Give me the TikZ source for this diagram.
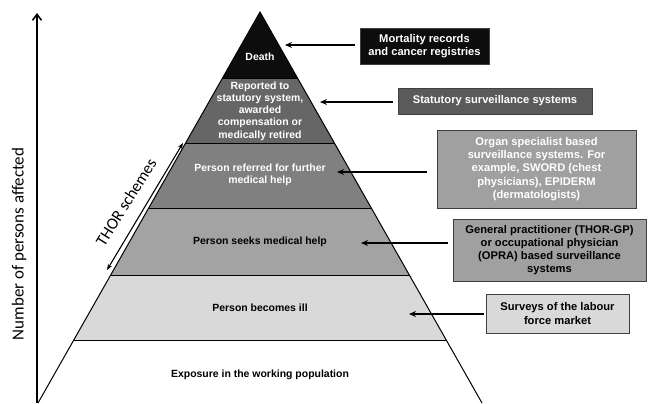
\documentclass[tikz,border=0pt]{standalone}
\usepackage{fontspec}
\setmainfont{Liberation Sans}
\newfontfamily\calfont{Carlito}
\usetikzlibrary{calc,arrows.meta}
\definecolor{cDeath}{HTML}{0D0D0D}
\definecolor{cRep}{HTML}{666666}
\definecolor{cRef}{HTML}{808080}
\definecolor{cSeek}{HTML}{A3A3A3}
\definecolor{cIll}{HTML}{D9D9D9}
\definecolor{cStat}{HTML}{5A5A5A}
\definecolor{cOrg}{HTML}{A0A0A0}
\definecolor{cGP}{HTML}{A0A0A0}
\tikzset{
  lvltext/.style={font=\bfseries\fontsize{10.5}{12.2}\selectfont, align=center, inner sep=0pt},
  srcbox/.style={draw=black!75, line width=0.8pt, inner sep=0pt, align=center,
    font=\bfseries\fontsize{11.2}{13.3}\selectfont},
  feed/.style={line width=1.6pt, -{Stealth[length=7pt,width=6pt]}},
  edge/.style={line width=1pt},
  sep/.style={line width=1pt},
}
\begin{document}
\begin{tikzpicture}[x=1bp,y=-1bp]
\useasboundingbox (0,0) rectangle (650,403);
% pyramid corners
\coordinate (A) at (260,12);
\coordinate (BL) at (38,403);
\coordinate (BR) at (482,403);
% level boundaries
\foreach \n/\yy in {1/78,2/143,3/208,4/275,5/340}{
  \coordinate (L\n) at ($(A)!{(\yy-12)/391}!(BL)$);
  \coordinate (R\n) at ($(A)!{(\yy-12)/391}!(BR)$);
}
% fills
\fill[cDeath] (A) -- (L1) -- (R1) -- cycle;
\fill[cRep] (L1) -- (L2) -- (R2) -- (R1) -- cycle;
\fill[cRef] (L2) -- (L3) -- (R3) -- (R2) -- cycle;
\fill[cSeek] (L3) -- (L4) -- (R4) -- (R3) -- cycle;
\fill[cIll] (L4) -- (L5) -- (R5) -- (R4) -- cycle;
% separators
\foreach \n in {1,...,5}{ \draw[sep] (L\n) -- (R\n); }
% edges
\draw[edge] (BL) -- (A) -- (BR);
% level texts
\node[lvltext, text=white] (tDeath) at (260,57) {Death};
\node[lvltext, text=white] (tRep) at (260,111) {Reported to\\statutory system,\\awarded\\compensation or\\medically retired};
\node[lvltext, text=white] (tRef) at (260,175) {Person referred for further\\medical help};
\node[lvltext] (tSeek) at (260,242) {Person seeks medical help};
\node[lvltext] (tIll) at (260,308) {Person becomes ill};
\node[lvltext] (tExp) at (260,375) {Exposure in the working population};
% source boxes
\node[srcbox, fill=cDeath, text=white, minimum width=129bp, minimum height=36bp] (bMort) at (424.5,46) {Mortality records\\and cancer registries};
\node[srcbox, fill=cStat, text=white, minimum width=194bp, minimum height=26bp] (bStat) at (495,101) {Statutory surveillance systems};
\node[srcbox, fill=cOrg, text=white, minimum width=199bp, minimum height=78bp] (bOrg) at (536.5,169) {Organ specialist based\\surveillance systems. For\\example, SWORD (chest\\physicians), EPIDERM\\(dermatologists)};
\node[srcbox, fill=cGP, minimum width=193bp, minimum height=62bp] (bGP) at (549.5,250) {General practitioner (THOR-GP)\\or occupational physician\\(OPRA) based surveillance\\systems};
\node[srcbox, fill=cIll, minimum width=143bp, minimum height=39bp] (bSurv) at (557.5,313.5) {Surveys of the labour\\force market};
% arrow targets
\coordinate (pMort) at (285,45);
\coordinate (pStat) at (320,102);
\coordinate (pOrg) at (337,172);
\coordinate (pGP) at (361,243);
\coordinate (pSurv) at (409,314);
\coordinate (sMort) at (355,45);
\coordinate (sStat) at (393,102);
\coordinate (sOrg) at (427,172);
\coordinate (sGP) at (448,243);
\coordinate (sSurv) at (484,314);
\draw[feed] (sMort) -- (pMort);
\draw[feed] (sStat) -- (pStat);
\draw[feed] (sOrg) -- (pOrg);
\draw[feed] (sGP) -- (pGP);
\draw[feed] (sSurv) -- (pSurv);
% vertical axis
\coordinate (ax0) at (37,403);
\coordinate (ax1) at (37,13);
\draw[line width=1.6pt, -{Straight Barb[length=6pt,width=9pt]}] (ax0) -- (ax1);
\node[rotate=90, font=\calfont\fontsize{17}{20}\selectfont, inner sep=0pt] (axlab) at (19,244) {Number of persons affected};
% THOR schemes
\coordinate (th1) at (183,143);
\coordinate (th2) at (107,270);
\draw[line width=1.1pt, {Stealth[length=6pt,width=4.5pt]}-{Stealth[length=6pt,width=4.5pt]}] (th2) -- (th1);
\node[rotate=58, font=\calfont\fontsize{16.5}{19}\selectfont, inner sep=0pt] (thlab) at (126,202) {THOR schemes};
\end{tikzpicture}
\end{document}
